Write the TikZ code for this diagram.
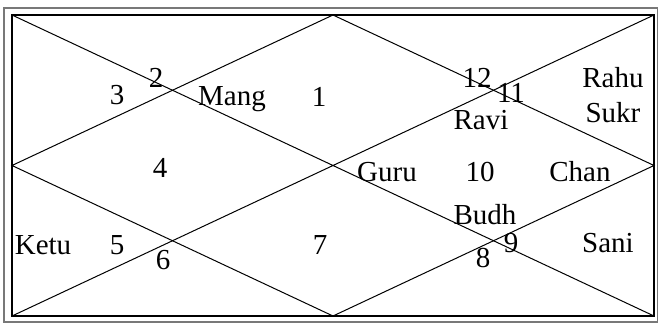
\documentclass[tikz,border=0pt]{standalone}
\usepackage{fontspec}
\setmainfont{Liberation Serif}
\definecolor{framegray}{RGB}{120,120,120}

\begin{document}
\begin{tikzpicture}[x=1pt, y=-1pt,
  lbl/.style={anchor=base, inner sep=0pt, font=\fontsize{29}{34}\selectfont}]
  \useasboundingbox (0,0) rectangle (659,331);

  % Frames: outer grey, inner black (corners named)
  \draw[framegray, line width=1.5pt] (4,8) rectangle (657.5,322);
  \coordinate (nw) at (12,15);  \coordinate (ne) at (654,15);
  \coordinate (sw) at (12,316); \coordinate (se) at (654,316);
  \draw[line width=1.3pt] (nw) rectangle (se);

  % Diagonals and the inner diamond
  \coordinate (top) at (333,15);    \coordinate (right) at (654,165.5);
  \coordinate (bottom) at (333,316); \coordinate (left) at (12,165.5);
  \draw[line width=1pt] (nw) -- (se) (ne) -- (sw);
  \draw[line width=1pt] (top) -- (right) -- (bottom) -- (left) -- cycle;

  % Upper houses
  \node[lbl] (h2) at (156,88) {2};
  \node[lbl] (h3) at (117,105) {3};
  \node[lbl] (mang) at (232,106) {Mang};
  \node[lbl] (h1) at (319,107) {1};
  \node[lbl] (h12) at (477,88) {12};
  \node[lbl] (h11) at (511,103) {11};
  \node[lbl] (ravi) at (481,130) {Ravi};
  \node[lbl] (rahu) at (613,88) {Rahu};
  \node[lbl] (sukr) at (613,123) {Sukr};

  % Middle row
  \node[lbl] (h4) at (160,178) {4};
  \node[lbl] (guru) at (387,182) {Guru};
  \node[lbl] (h10) at (480,182) {10};
  \node[lbl] (chan) at (580,182) {Chan};

  % Lower houses
  \node[lbl] (ketu) at (43,255) {Ketu};
  \node[lbl] (h5) at (117,255) {5};
  \node[lbl] (h6) at (163,270) {6};
  \node[lbl] (h7) at (320,255) {7};
  \node[lbl] (budh) at (485,225) {Budh};
  \node[lbl] (h9) at (511,253) {9};
  \node[lbl] (h8) at (483,268) {8};
  \node[lbl] (sani) at (608,253) {Sani};
\end{tikzpicture}
\end{document}
